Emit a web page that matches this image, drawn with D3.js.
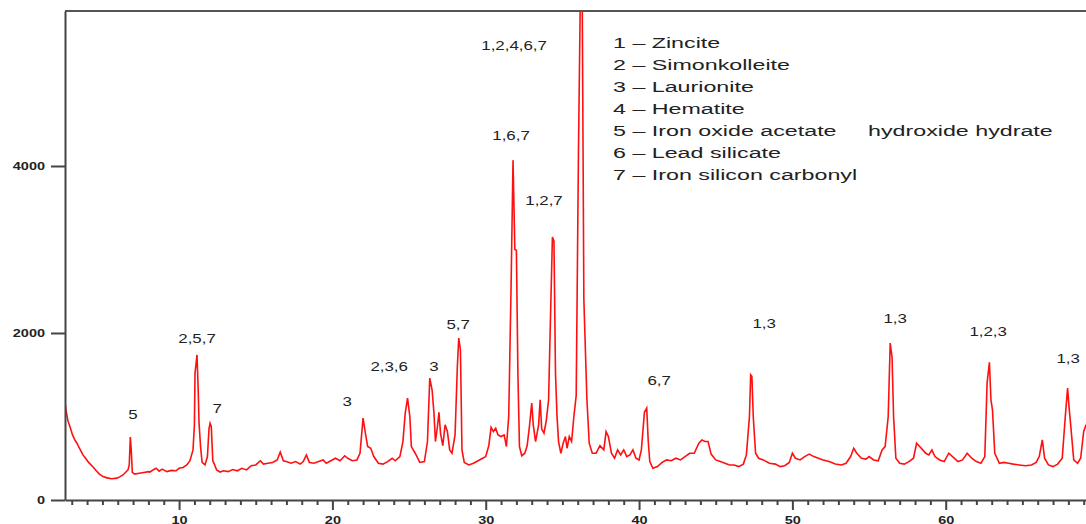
<!DOCTYPE html>
<html lang="en">
<head>
    <meta charset="utf-8">
    <style type="text/css">
        body { margin: 0; background: #fff; }
        svg { display: block; font-family: Arial, "Liberation Sans", sans-serif; }
        .axis path, .axis line { stroke: #444; stroke-width: 2px; }
        .axis text { font-size: 10px; font-weight: bold; fill: #222; }
        .trace { fill: none; stroke: #ff1010; stroke-width: 1.6px; stroke-linejoin: miter; }
        .peak { font-size: 13.5px; fill: #222; }
        .legend text { font-size: 15.5px; fill: #222; }
    </style>
</head>
<body>
<svg width="1086" height="524"></svg>

<script src="https://cdn.jsdelivr.net/npm/d3@7"></script>

<script type="text/javascript">
    // 2-theta (deg) and counts
    var twoTheta = [2.56, 2.65, 2.75, 2.89, 3.05, 3.2, 3.34, 3.5, 3.73, 3.9, 4.1, 4.39, 4.6, 4.8, 5.04, 5.3, 5.6, 5.95, 6.15, 6.34,
        6.5, 6.67, 6.75, 6.82, 6.88, 6.95, 7.1, 7.4, 7.7, 8.0, 8.1, 8.3, 8.5, 8.7, 8.9, 9.2, 9.5, 9.8, 10.0, 10.26,
        10.5, 10.71, 10.91, 11.0, 11.04, 11.17, 11.25, 11.3, 11.4, 11.5, 11.69, 11.85, 11.95, 12.02, 12.1, 12.2, 12.3, 12.45, 12.67, 12.9,
        13.2, 13.5, 13.8, 14.1, 14.4, 14.7, 15.0, 15.3, 15.5, 15.8, 16.1, 16.4, 16.6, 16.8, 17.0, 17.3, 17.6, 17.9, 18.1, 18.3,
        18.5, 18.8, 19.1, 19.4, 19.6, 19.9, 20.2, 20.5, 20.8, 21.0, 21.3, 21.6, 21.8, 22.0, 22.15, 22.3, 22.5, 22.7, 23.0, 23.3,
        23.6, 23.9, 24.1, 24.4, 24.6, 24.75, 24.9, 25.05, 25.15, 25.4, 25.7, 26.0, 26.2, 26.35, 26.5, 26.62, 26.72, 26.85, 26.95, 27.05,
        27.2, 27.35, 27.5, 27.65, 27.8, 28.0, 28.15, 28.24, 28.35, 28.45, 28.6, 28.9, 29.2, 29.5, 29.8, 30.0, 30.2, 30.35, 30.5, 30.65,
        30.8, 31.0, 31.2, 31.35, 31.5, 31.65, 31.78, 31.9, 32.0, 32.1, 32.2, 32.35, 32.55, 32.7, 32.85, 33.0, 33.1, 33.25, 33.45, 33.55,
        33.65, 33.8, 33.95, 34.1, 34.2, 34.35, 34.45, 34.55, 34.65, 34.75, 34.9, 35.05, 35.2, 35.3, 35.45, 35.6, 35.75, 35.9, 36.05, 36.2,
        36.28, 36.4, 36.6, 36.75, 36.95, 37.2, 37.45, 37.7, 37.85, 38.0, 38.2, 38.4, 38.6, 38.8, 39.0, 39.2, 39.4, 39.6, 39.8, 40.0,
        40.15, 40.35, 40.5, 40.6, 40.7, 40.9, 41.2, 41.5, 41.8, 42.1, 42.4, 42.7, 43.0, 43.3, 43.6, 43.9, 44.1, 44.3, 44.5, 44.7,
        45.0, 45.3, 45.6, 45.9, 46.2, 46.5, 46.8, 47.0, 47.2, 47.28, 47.36, 47.45, 47.6, 47.8, 48.1, 48.5, 48.9, 49.2, 49.5, 49.8,
        50.0, 50.2, 50.5, 50.8, 51.1, 51.4, 51.7, 52.0, 52.4, 52.8, 53.2, 53.5, 53.8, 54.0, 54.2, 54.5, 54.8, 55.0, 55.3, 55.6,
        55.85, 56.05, 56.25, 56.38, 56.5, 56.6, 56.75, 57.0, 57.3, 57.6, 57.9, 58.1, 58.3, 58.5, 58.7, 58.9, 59.1, 59.3, 59.6, 59.9,
        60.2, 60.5, 60.8, 61.1, 61.4, 61.7, 62.0, 62.3, 62.55, 62.7, 62.85, 62.95, 63.05, 63.2, 63.5, 63.8, 64.1, 64.4, 64.8, 65.2,
        65.6, 65.9, 66.1, 66.3, 66.45, 66.7, 67.0, 67.3, 67.6, 67.8, 67.95, 68.05, 68.15, 68.35, 68.6, 68.8, 69.0, 69.15];

    var counts = [1160, 1050, 950, 875, 780, 720, 680, 620, 540, 500, 450, 395, 350, 310, 280, 265, 255, 262, 280, 300,
        330, 360, 420, 755, 600, 330, 310, 320, 330, 340, 335, 360, 380, 345, 370, 340, 355, 350, 380, 390,
        420, 470, 600, 900, 1520, 1737, 1300, 930, 640, 450, 420, 520, 850, 920, 880, 470, 430, 360, 335, 350,
        340, 365, 350, 380, 360, 410, 420, 470, 430, 440, 450, 480, 575, 470, 460, 440, 460, 430, 460, 540,
        450, 440, 460, 480, 440, 470, 500, 470, 530, 500, 470, 480, 560, 980, 800, 640, 620, 520, 440, 430,
        460, 500, 470, 520, 700, 1040, 1220, 1000, 640, 560, 450, 460, 700, 1460, 1320, 1050, 700, 880, 1050, 800,
        650, 900, 820, 600, 560, 780, 1600, 1940, 1800, 600, 450, 420, 440, 470, 500, 520, 650, 870, 820, 860,
        780, 760, 780, 640, 1000, 2520, 4070, 3000, 2990, 1500, 640, 530, 560, 650, 880, 1160, 900, 700, 900, 1200,
        850, 800, 950, 1200, 2000, 3150, 3100, 1520, 1000, 700, 560, 680, 760, 620, 760, 700, 1000, 1250, 4190, 6500,
        6500, 2400, 1200, 680, 560, 560, 650, 600, 820, 760, 560, 500, 600, 540, 600, 520, 540, 600, 500, 480,
        600, 1050, 1100, 700, 460, 380, 400, 450, 480, 470, 500, 480, 520, 560, 560, 680, 720, 700, 700, 550,
        480, 460, 440, 420, 420, 400, 430, 540, 1000, 1500, 1480, 990, 560, 500, 480, 440, 430, 400, 410, 450,
        560, 500, 480, 520, 550, 520, 500, 480, 460, 430, 420, 440, 520, 620, 560, 500, 490, 520, 480, 470,
        600, 640, 1000, 1880, 1710, 1000, 500, 440, 430, 460, 500, 680, 640, 600, 560, 540, 600, 520, 480, 460,
        560, 510, 460, 480, 560, 500, 460, 440, 520, 1400, 1650, 1200, 1080, 560, 440, 450, 440, 430, 420, 410,
        420, 450, 520, 720, 500, 420, 400, 430, 500, 1000, 1340, 1100, 900, 480, 440, 500, 820, 900];

    // peak annotations: phase numbers, label position in data units
    var peakLabels = ["5", "2,5,7", "7", "3", "2,3,6", "3", "5,7", "1,2,4,6,7", "1,6,7", "1,2,7", "6,7", "1,3", "1,3", "1,2,3", "1,3"];
    var peakLabelTheta = [6.99, 11.17, 12.48, 20.96, 23.7, 26.63, 28.2, 31.85, 31.65, 33.8, 41.31, 48.16, 56.7, 62.77, 67.99];
    var peakLabelCount = [970, 1880, 1042, 1126, 1545, 1545, 2049, 5391, 4313, 3534, 1378, 2061, 2120, 1965, 1641];

    var legendLines = ["1 – Zincite", "2 – Simonkolleite", "3 – Laurionite", "4 – Hematite",
        "5 – Iron oxide acetate", "6 – Lead silicate", "7 – Iron silicon carbonyl"];

    var yTicks = [0, 2000, 4000];
    var xMajorTicks = [10, 20, 30, 40, 50, 60];

    var svg = d3.select("svg"),
        plotLeft = 65, plotRight = 1086, plotTop = 11, plotBottom = 500;

    var x = d3.scaleLinear().domain([2.56, 69.15]).range([plotLeft, plotRight]);
    var y = d3.scaleLinear().domain([0, 5856]).range([plotBottom, plotTop]);

    svg.append("defs").append("clipPath").attr("id", "plotclip")
        .append("rect")
        .attr("x", plotLeft).attr("y", plotTop)
        .attr("width", plotRight - plotLeft).attr("height", plotBottom - plotTop);

    // top frame line
    svg.append("line")
        .attr("x1", plotLeft).attr("x2", plotRight)
        .attr("y1", plotTop).attr("y2", plotTop)
        .style("stroke", "#555").style("stroke-width", 2);

    var data = twoTheta.map(function (t, i) {
        return {t: t, c: counts[i]};
    });

    var line = d3.line()
        .x(function (d) { return x(d.t); })
        .y(function (d) { return y(d.c); });

    svg.append("path")
        .datum(data)
        .attr("class", "trace")
        .attr("clip-path", "url(#plotclip)")
        .attr("d", line);

    // minor x ticks
    var minor = d3.range(3, 70).filter(function (v) { return v % 10 !== 0; });
    svg.append("g")
        .attr("class", "axis")
        .attr("transform", "translate(0," + plotBottom + ")")
        .call(d3.axisBottom(x).tickValues(minor).tickSize(5).tickSizeOuter(0).tickFormat(""))
        .select(".domain").remove();

    var xAxis = svg.append("g")
        .attr("class", "axis")
        .attr("transform", "translate(0," + plotBottom + ")")
        .call(d3.axisBottom(x).tickValues(xMajorTicks).tickSize(10).tickSizeOuter(0));
    xAxis.selectAll("text")
        .attr("y", 0).attr("dy", 0)
        .attr("transform", "translate(0,24) scale(1.45,1)");

    var yAxis = svg.append("g")
        .attr("class", "axis")
        .attr("transform", "translate(" + plotLeft + ",0)")
        .call(d3.axisLeft(y).tickValues(yTicks).tickFormat(d3.format("d")).tickSize(14).tickSizeOuter(0));
    yAxis.selectAll("text")
        .attr("x", -13.8)
        .attr("transform", "scale(1.45,1)");

    // peak labels
    svg.selectAll(".peak")
        .data(peakLabels)
        .enter()
        .append("text")
        .attr("class", "peak")
        .attr("text-anchor", "middle")
        .attr("transform", function (d, i) {
            return "translate(" + x(peakLabelTheta[i]) + "," + y(peakLabelCount[i]) + ") scale(1.25,1)";
        })
        .text(function (d) { return d; });

    // phase legend
    var legend = svg.append("g")
        .attr("class", "legend")
        .attr("transform", "translate(613,0) scale(1.5,1)");

    legend.selectAll("text")
        .data(legendLines)
        .enter()
        .append("text")
        .attr("x", 0)
        .attr("y", function (d, i) { return 48 + i * 22; })
        .text(function (d) { return d; });

    legend.append("text")
        .attr("x", (868 - 613) / 1.5)
        .attr("y", 48 + 4 * 22)
        .text("hydroxide hydrate");
</script>

</body>
</html>
